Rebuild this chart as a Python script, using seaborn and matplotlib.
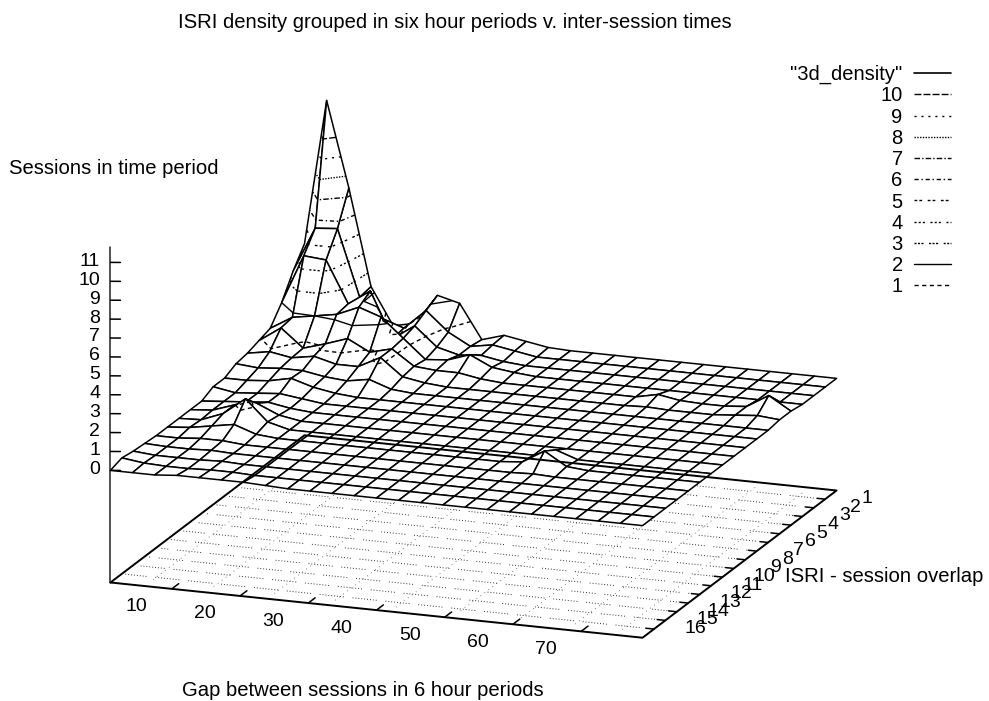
import matplotlib
matplotlib.use("Agg")
import matplotlib.pyplot as plt
from matplotlib.lines import Line2D
from mpl_toolkits.mplot3d import proj3d
import numpy as np
import seaborn as sns

title = "ISRI density grouped in six hour periods v. inter-session times"
z_title = "Sessions in time period"
x_title = "Gap between sessions in 6 hour periods"
y_title = "ISRI - session overlap"

x_grid = [1, 4.25, 7.5, 10.75, 14, 17.25, 20.5, 23.75, 27, 30.25, 33.5, 36.75, 40,
          43.25, 46.5, 49.75, 53, 56.25, 59.5, 62.75, 66, 69.25, 72.5, 75.75, 79]
y_grid = list(range(18))
x_ticks = [10, 20, 30, 40, 50, 60, 70]
y_ticks = list(range(1, 17))
z_ticks = list(range(12))
levels = [1, 2, 3, 4, 5, 6, 7, 8, 9, 10]

row_00 = [4.2, 11.9, 7.4, 2.3, .35, .6, 2.2, 1.9, .1, .45, .25, .05, 0, 0, 0, 0, 0, 0, 0, 0, 0, 0, 0, 0, 0]
row_01 = [3.2, 5.6, 5.7, 2.2, 1.2, .8, 1.85, .83, .2, .4, .2, 0, 0, 0, 0, 0, 0, 0, 0, 0, 0, 0, 0, 0, 0]
row_02 = [2.0, 4.6, 4.5, 2.3, 3.1, .7, 1.5, .5, .2, .3, .1, 0, 0, 0, 0, 0, 0, 0, 0, 0, 0, 0, 0, 0, 0]
row_03 = [1.1, 1.8, 2.0, 2.2, 2.7, 2.3, 1.3, .3, .4, .8, .25, .1, 0, 0, 0, 0, 0, 0, 0, 0, 0, 0, 0, 0, 0]
row_04 = [.9, 1.7, .75, 1.1, 1.5, .9, 1.2, .4, .3, .3, .1, 0, 0, 0, 0, 0, 0, 0, .25, .05, 0, 0, .1, .8, .1]
row_05 = [.7, .9, .7, .9, .6, .6, 1.2, .3, .1, 0, 0, 0, 0, 0, 0, 0, 0, 0, .05, 0, 0, 0, .1, .2, .1]
row_06 = [.6, .5, .6, .6, .4, .3, .5, .1, 0, 0, 0, 0, 0, 0, 0, 0, 0, 0, 0, 0, 0, 0, 0, 0, 0]
row_07 = [.3, .3, .4, .65, .3, .1, 0, 0, 0, 0, 0, 0, 0, 0, 0, 0, 0, 0, 0, 0, 0, 0, 0, 0, 0]
row_08 = [.3, .1, .2, .3, .15, 0, 0, 0, 0, 0, 0, 0, 0, 0, 0, 0, 0, 0, 0, 0, 0, 0, 0, 0, 0]
row_09 = [0, .1, .2, .3, .1, 0, 0, 0, 0, 0, 0, 0, 0, 0, 0, 0, 0, 0, 0, 0, 0, 0, 0, 0, 0]
row_10 = [0, .1, .5, .7, .2, 0, 0, 0, 0, 0, 0, 0, 0, 0, 0, 0, 0, 0, 0, 0, 0, 0, 0, 0, 0]
row_11 = [0, .05, .5, 1.4, .3, 0, 0, 0, 0, 0, 0, 0, 0, 0, 0, 0, 0, .4, 0, 0, 0, 0, 0, 0, 0]
row_12 = [0, .1, .3, .5, .1, 0, 0, 0, 0, 0, 0, 0, 0, 0, 0, 0, .1, .8, .1, 0, 0, 0, 0, 0, 0]
row_13 = [0, 0, .1, .1, 0, 0, 0, 0, 0, 0, 0, 0, 0, 0, 0, 0, 0, .05, 0, 0, 0, 0, 0, 0, 0]
row_14 = [.05, 0, 0, .05, 0, 0, 0, 0, 0, 0, 0, 0, 0, 0, 0, 0, 0, 0, 0, 0, 0, 0, 0, 0, 0]
row_15 = [.1, 0, 0, 0, .05, 0, 0, 0, 0, 0, 0, 0, 0, 0, 0, 0, 0, 0, 0, 0, 0, 0, 0, 0, 0]
row_16 = [.2, .05, 0, 0, .05, .05, 0, 0, 0, 0, 0, 0, 0, 0, 0, 0, 0, 0, 0, 0, 0, 0, 0, 0, 0]
row_17 = [0, 0, 0, .1, .1, .1, .1, .05, 0, 0, 0, 0, 0, 0, 0, 0, 0, 0, 0, 0, 0, 0, 0, 0, 0]

floor_rows = list(range(1, 17))
floor_cols = [6, 15, 24, 33, 42, 51, 60, 68, 75]

level_styles = {
    10: (0, (5, 1.5)), 9: (0, (1.5, 3.5)), 8: (0, (1, 1)), 7: (0, (4, 1.5, 1, 1.5)),
    6: (0, (3, 2, 1, 2)), 5: (0, (2, 1.5, 2, 4)), 4: (0, (1.5, 1.5, 1.5, 1.5, 1.5, 4)),
    3: (0, (1.5, 1, 1.5, 1, 1.5, 4)), 2: "-", 1: (0, (3, 2.5)),
}

sns.set_theme(style="white", font="Liberation Sans", font_scale=1)
W, H = 989, 701
fig = plt.figure(figsize=(W / 100, H / 100), dpi=100, facecolor="white")

S = 900
Z_FLOOR = -5.93
Z_TOP = 12
ax = fig.add_axes([(473.5 - .5135 * S) / W, (334 - .5135 * S) / H, S / W, S / H], projection="3d",
                  computed_zorder=False)
ax.set_proj_type("ortho")
ax.view_init(elev=16.3, azim=-69.7)
ax.set_box_aspect((567, 559, 353), zoom=846 / S)
ax.set_xlim(1, 79, view_margin=0)
ax.set_ylim(17, 0, view_margin=0)
ax.set_zlim(Z_FLOOR, Z_TOP, view_margin=0)
ax.set_axis_off()
ax.patch.set_alpha(0)

X, Y = np.meshgrid(x_grid, y_grid)
Z = np.array([row_00, row_01, row_02, row_03, row_04, row_05, row_06, row_07, row_08,
              row_09, row_10, row_11, row_12, row_13, row_14, row_15, row_16, row_17])

# dotted base contours, broken up like the scan
for n, y in enumerate(floor_rows):
    ax.plot([1.5, 78], [y, y], [Z_FLOOR] * 2, color="#333333", lw=.7,
            ls=(n * 7, (1, 2, 1, 2, 1, 2, 1, 2, 1, 2, 1, 2, 1, 2, 1, 2, 1, 9)), zorder=1)
for n, x in enumerate(floor_cols):
    ax.plot([x, x], [.5, 16.5], [Z_FLOOR] * 2, color="#555555", lw=.6, ls=(n * 5, (1, 5)), zorder=1)

ax.plot_surface(X, Y, Z, rstride=1, cstride=1, color="white", edgecolor="black", linewidth=1.1,
                shade=False, antialiased=True, zorder=2)
ax.contour(X, Y, Z, levels=levels, colors="black", linewidths=1,
           linestyles=[level_styles[v] for v in levels], zorder=3)

# frame on the floor
ax.plot([1, 79, 79, 1, 1], [17, 17, 0, 0, 17], [Z_FLOOR] * 5, color="black", lw=1.4, zorder=4)
ax.plot([1, 1], [17, 17], [Z_FLOOR, 11.8], color="#222222", lw=1.1, zorder=4)


def place(x, y, z, text, ha="center"):
    px, py, _ = proj3d.proj_transform(x, y, z, ax.get_proj())
    ax.text2D(px, py, text, transform=ax.transData, ha=ha, va="center", fontsize=14, color="black")


for v in x_ticks:
    ax.plot([v, v], [17, 16.4], [Z_FLOOR] * 2, color="black", lw=1.1, zorder=4)
    place(v - 1.45, 19.2, Z_FLOOR, str(v))
for v in y_ticks:
    ax.plot([79, 77.8], [v, v], [Z_FLOOR] * 2, color="black", lw=1.1, zorder=4)
    place(84.3, v - .5, Z_FLOOR, str(v))
for v in z_ticks:
    ax.plot([1, 2.3], [17, 16.9], [v, v], color="black", lw=1.1, zorder=4)
    place(-0.5, 17, v, str(v), ha="right")


def label(px, py, text, ha="left"):
    fig.text(px / W, 1 - py / H, text, ha=ha, va="center", fontsize=14.6, color="black")


label(178, 22, title)
label(9, 169, z_title)
label(182, 690, x_title)
label(785, 577, y_title)

handles = [Line2D([], [], color="black", lw=1.2)]
names = ['"3d_density"']
for v in levels[::-1]:
    handles.append(Line2D([], [], color="black", lw=1, ls=level_styles[v]))
    names.append(str(v))
fig.legend(handles, names, loc="upper right", bbox_to_anchor=(951 / W, 1 - 65 / H), frameon=False,
           markerfirst=False, fontsize=14.5, handlelength=1.85, handletextpad=.55, labelspacing=.11,
           borderpad=0, borderaxespad=0, labelcolor="black")

fig.savefig("out.png", dpi=100)
